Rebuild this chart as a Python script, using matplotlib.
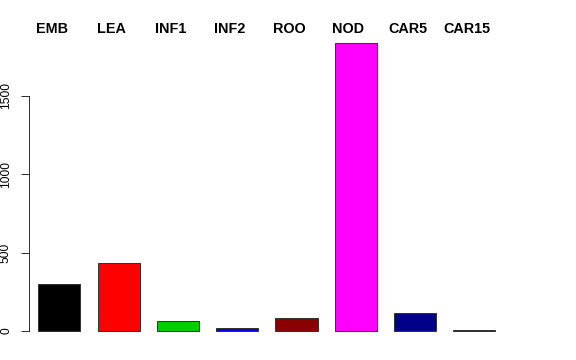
import matplotlib
matplotlib.use("Agg")
import matplotlib.pyplot as plt

# tissue groups and their counts
groups = ['EMB', 'LEA', 'INF1', 'INF2', 'ROO', 'NOD', 'CAR5', 'CAR15']
counts = [298, 432, 62, 18, 85, 1834, 117, 5]
colors = ['black', 'red', '#00CD00', 'blue', '#8B0000', 'magenta', '#00008B', 'black']
yticks = [0, 500, 1000, 1500]

plt.rcParams['font.family'] = ['Liberation Sans', 'DejaVu Sans']

W, H = 576, 360
fig = plt.figure(figsize=(W / 72, H / 72), dpi=72)
# axes placed in pixel terms to sit like the R plot region
left, right, top, bottom = 29, 504, 31.8, 342.5
ax = fig.add_axes([left / W, (H - bottom) / H, (right - left) / W, (bottom - top) / H])

x = list(range(len(groups)))
ax.bar(x, counts, width=0.71, color=colors, edgecolor='#333333', linewidth=1.0)

ax.set_xlim(-0.511, 7.5)
ax.set_ylim(-73, 1907)

for s in ['top', 'right', 'bottom']:
    ax.spines[s].set_visible(False)
ax.spines['left'].set_bounds(0, 1500)
ax.spines['left'].set_linewidth(0.8)
ax.set_xticks([])
ax.set_yticks(yticks)
ax.set_yticklabels([str(t) for t in yticks], rotation=90, va='center', fontsize=12)
ax.tick_params(axis='y', length=8, width=0.8, pad=9)

# names above each bar
for i, g in enumerate(groups):
    ax.text(i - 0.126, 1.008, g, transform=ax.get_xaxis_transform(),
            ha='center', va='center', fontsize=14.4, fontweight='bold')

fig.savefig('out.png', dpi=72)
